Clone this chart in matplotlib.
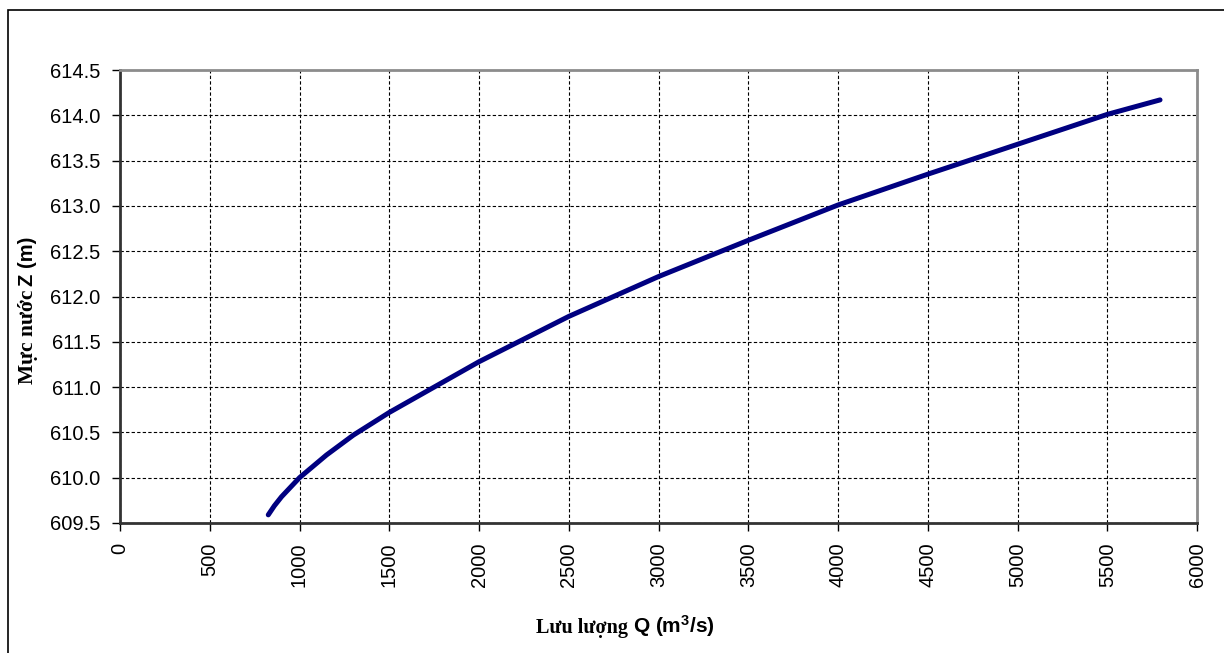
import matplotlib.pyplot as plt
from matplotlib.patches import Rectangle

# Rating curve data
discharge = [826, 860, 900, 1000, 1150, 1300, 1500, 2000, 2500, 3000, 3500, 4000, 4500, 5000, 5500, 5794]
water_level = [609.59, 609.69, 609.79, 610.0, 610.25, 610.47, 610.72, 611.28, 611.78, 612.22, 612.62, 613.01, 613.35, 613.68, 614.01, 614.17]
x_ticks = [0, 500, 1000, 1500, 2000, 2500, 3000, 3500, 4000, 4500, 5000, 5500, 6000]
y_ticks = [609.5, 610.0, 610.5, 611.0, 611.5, 612.0, 612.5, 613.0, 613.5, 614.0, 614.5]

sans = 'Liberation Sans'
serif = 'Liberation Serif'
plt.rcParams['mathtext.default'] = 'regular'

fig = plt.figure(figsize=(12.24, 6.53), dpi=100)
ax = fig.add_axes([120 / 1224, 1 - 523 / 653, (1197 - 120) / 1224, (523 - 70) / 653])

ax.plot(discharge, water_level, color='#000080', linewidth=3.6, solid_capstyle='round')

ax.set_xlim(0, 6000)
ax.set_ylim(609.5, 614.5)
ax.set_xticks(x_ticks)
ax.set_yticks(y_ticks)
ax.set_xticklabels([str(v) for v in x_ticks], rotation=90, fontfamily=sans, fontsize=14.5)
ax.set_yticklabels([f'{v:.1f}' for v in y_ticks], fontfamily=sans, fontsize=14.5)
ax.tick_params(direction='out', length=5.5, width=1, color='black', pad=8.5)

ax.grid(True, color='black', linestyle=(0, (3, 2)), linewidth=0.8)
ax.set_axisbelow(True)

for side in ['left', 'bottom']:
    ax.spines[side].set_color('#333333')
    ax.spines[side].set_linewidth(2)
for side in ['top', 'right']:
    ax.spines[side].set_color('#8c8c8c')
    ax.spines[side].set_linewidth(2)

# Axis labels: Vietnamese words in serif bold, symbols in sans bold
fig.text(628 / 1224, 1 - 633 / 653, 'Lưu lượng', family=serif, fontweight='bold',
         fontsize=14.5, ha='right', va='baseline')
fig.text(633 / 1224, 1 - 633 / 653, 'Q (m$^3$/s)', family=sans, fontweight='bold',
         fontsize=15, ha='left', va='baseline')
fig.text(28 / 1224, 1 - 290 / 653, 'Mực nước', family=serif, fontweight='bold',
         fontsize=15.5, rotation=90, ha='center', va='top')
fig.text(28 / 1224, 1 - 286 / 653, 'Z (m)', family=sans, fontweight='bold',
         fontsize=14.5, rotation=90, ha='center', va='bottom')

# Outer chart border
fig.patches.append(Rectangle((8 / 1224, -0.05), 1.2, 1 - 10 / 653 + 0.05,
                             transform=fig.transFigure, fill=False,
                             edgecolor='black', linewidth=1.2))

fig.savefig('out.png', dpi=100)
